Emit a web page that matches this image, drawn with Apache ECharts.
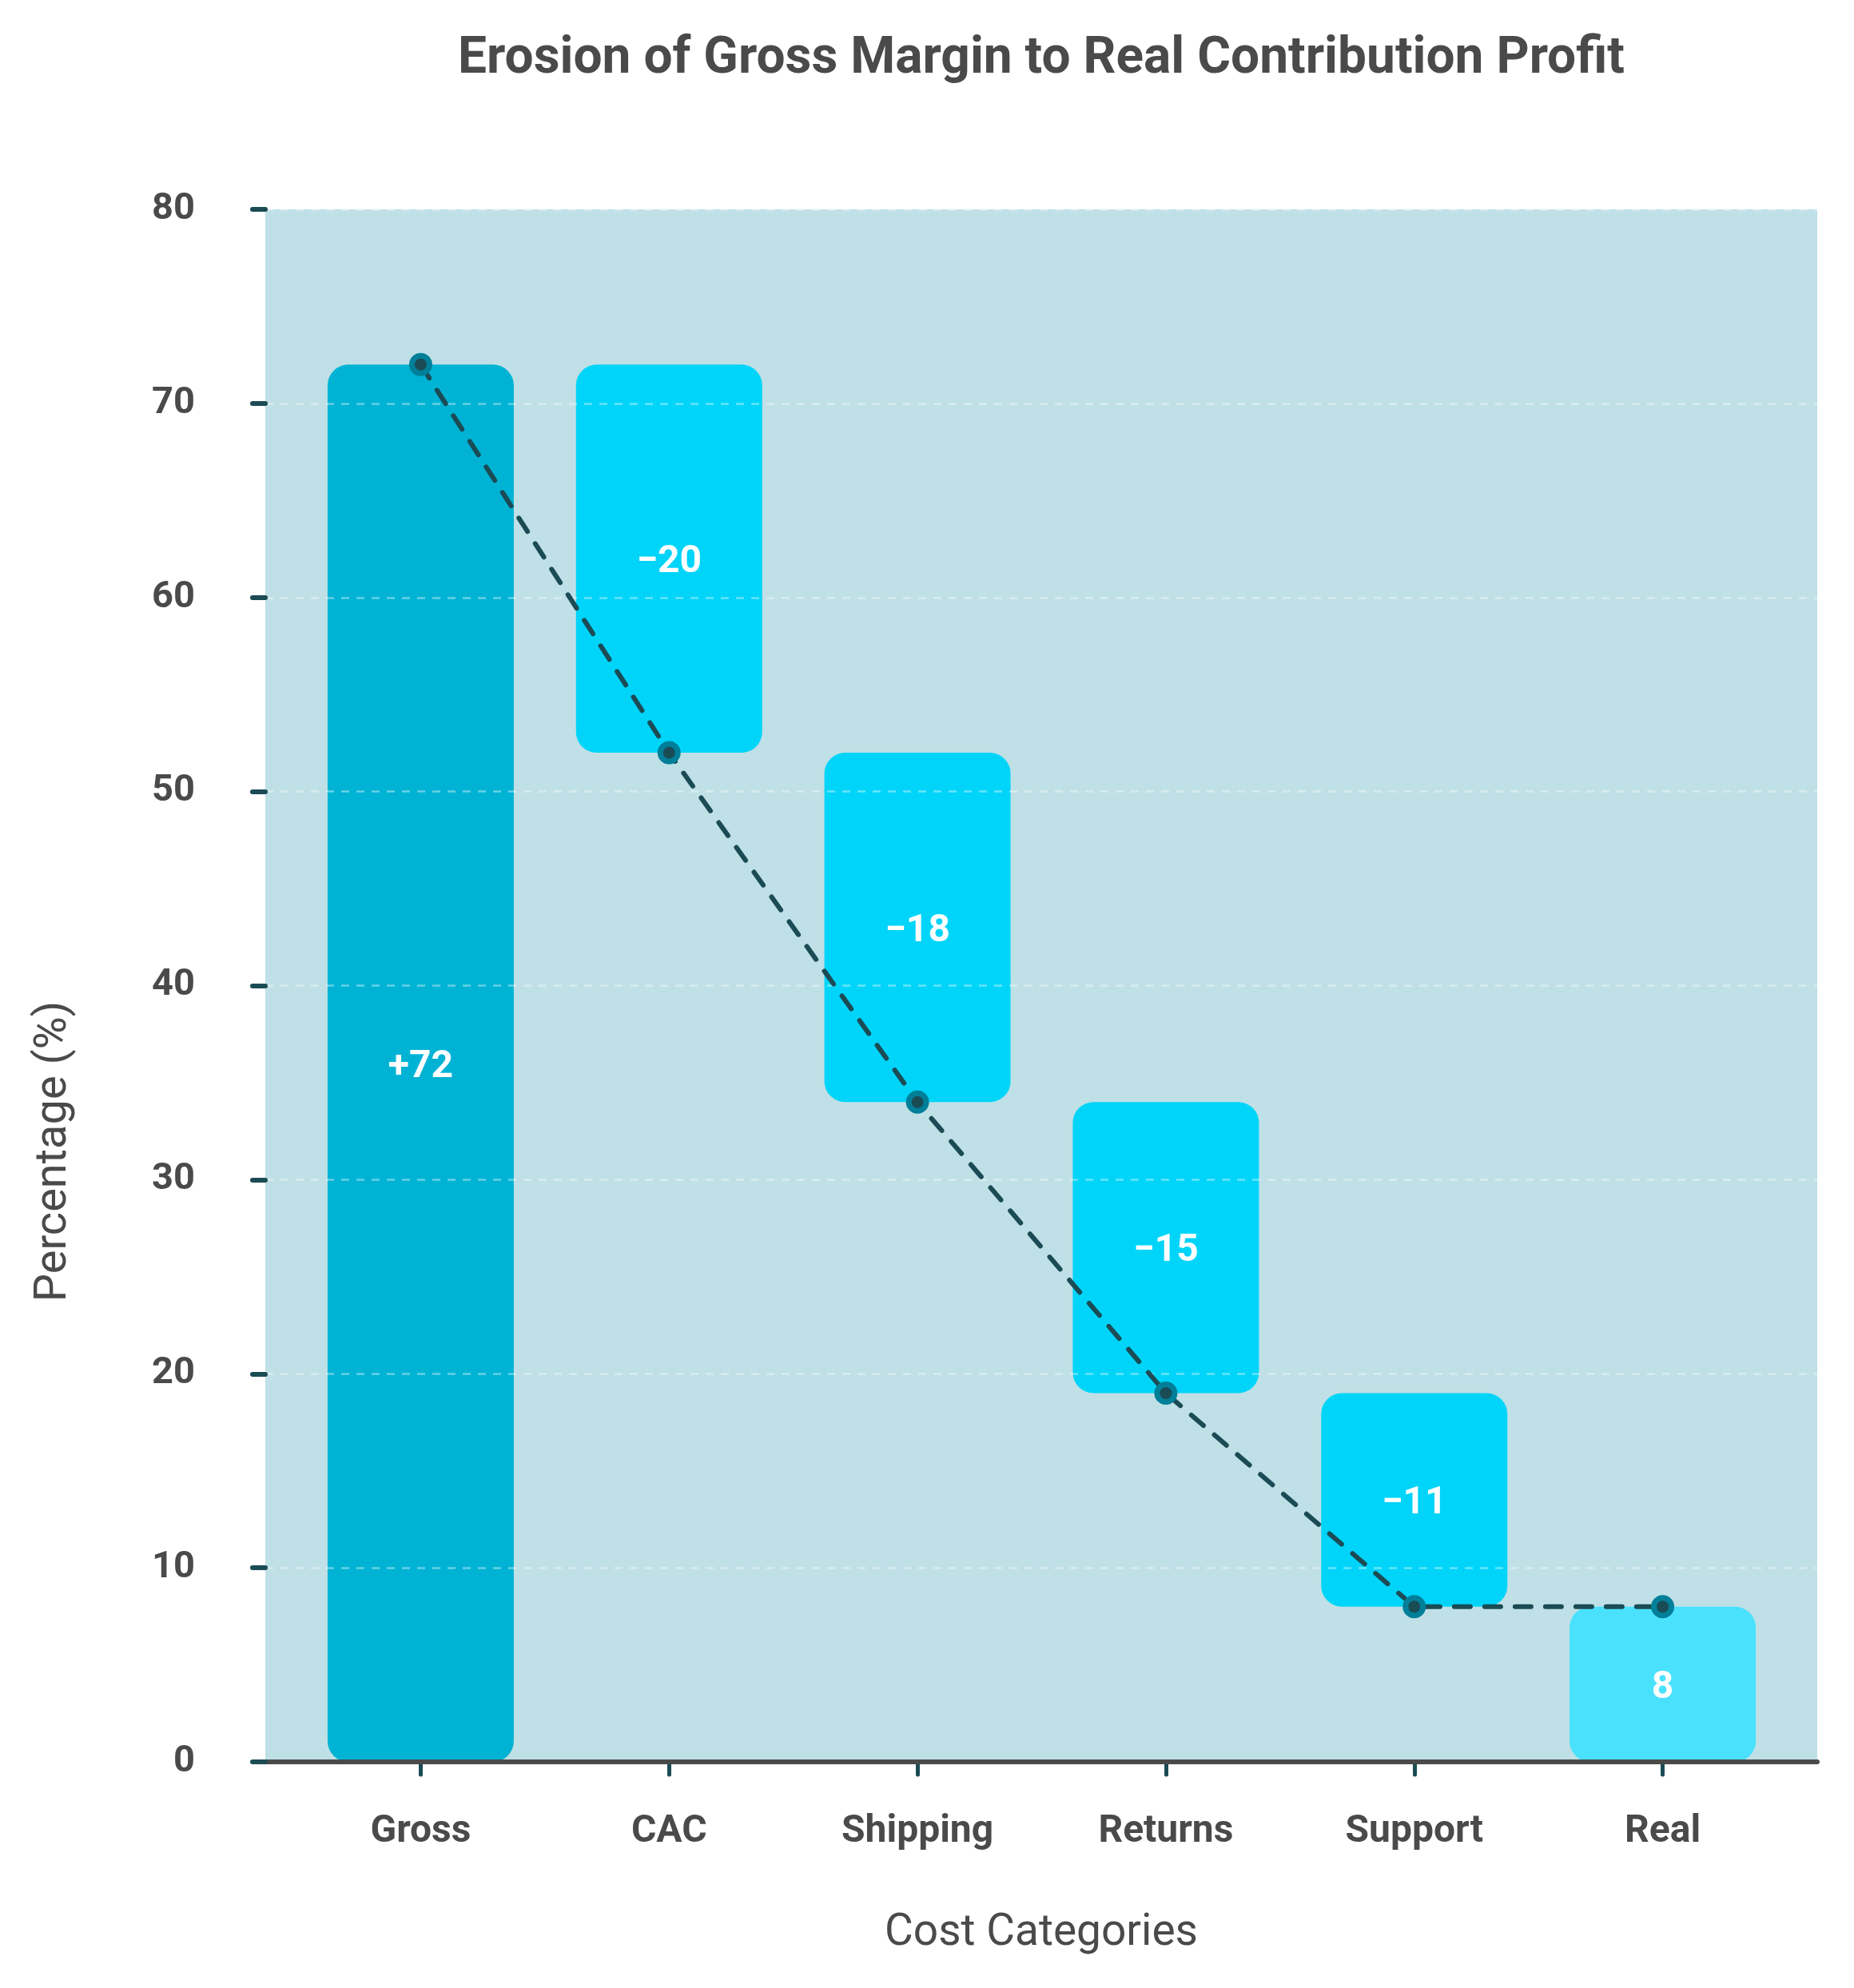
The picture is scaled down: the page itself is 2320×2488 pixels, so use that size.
<!DOCTYPE html>
<html>
<head>
<meta charset="utf-8">
<script src="https://cdn.jsdelivr.net/npm/echarts@6/dist/echarts.min.js"></script>
<style>
  html, body { margin: 0; padding: 0; background: #ffffff; }
  #chart { width: 2320px; height: 2488px; }
</style>
</head>
<body>
<div id="chart"></div>
<script>
// data
const categories = ['Gross', 'CAC', 'Shipping', 'Returns', 'Support', 'Real']
const barBase = [0, 52, 34, 19, 8, 0]
const barHeight = [72, 20, 18, 15, 11, 8]
const runningLevel = [72, 52, 34, 19, 8, 8]
const barLabels = ['+72', '\u221220', '\u221218', '\u221215', '\u221211', '8']
const yTicks = [0, 10, 20, 30, 40, 50, 60, 70, 80]

const barColors = ['#00b3d4', '#00d4f9', '#00d4f9', '#00d4f9', '#00d4f9', '#4ae1fd']
const textColor = '#4a4a4a'
const tealDark = '#1b4b55'
const font = 'Roboto'

const myChart = echarts.init(document.getElementById('chart'), null, { renderer: 'canvas' })

let option = {
  backgroundColor: '#ffffff',
  animation: false,
  title: {
    text: 'Erosion of Gross Margin to Real Contribution Profit',
    left: 1298,
    top: 38,
    textAlign: 'center',
    textStyle: { fontFamily: font, fontWeight: 'bold', fontSize: 64, color: textColor }
  },
  graphic: [
    {
      type: 'text',
      x: 68,
      y: 1441,
      rotation: Math.PI / 2,
      style: {
        text: 'Percentage (%)',
        fontFamily: font,
        fontSize: 56,
        fill: textColor,
        align: 'center',
        verticalAlign: 'middle'
      }
    }
  ],
  grid: [
    // background grid with y axis + axis line
    { left: 332, right: 46, top: 262, bottom: 283, show: true, backgroundColor: '#bfe0e6', borderWidth: 0 },
    // grid holding the bars, narrower like the padded category range
    { left: 371, right: 84, top: 262, bottom: 283 }
  ],
  xAxis: [
    {
      gridIndex: 0,
      type: 'value',
      min: 0,
      max: 1,
      z: 3,
      axisLine: { show: true, lineStyle: { color: textColor, width: 6 } },
      axisTick: { show: false },
      axisLabel: { show: false },
      splitLine: { show: false },
      name: 'Cost Categories',
      nameLocation: 'middle',
      nameGap: 188,
      nameTextStyle: { fontFamily: font, fontSize: 55, color: textColor }
    },
    {
      gridIndex: 1,
      type: 'category',
      data: categories,
      axisLine: { show: false },
      axisTick: {
        show: true,
        alignWithLabel: true,
        length: 16,
        lineStyle: { color: tealDark, width: 5, cap: 'round' }
      },
      axisLabel: { fontFamily: font, fontWeight: 'bold', fontSize: 48, color: textColor, margin: 64 }
    }
  ],
  yAxis: [
    {
      gridIndex: 0,
      type: 'value',
      min: 0,
      max: 80,
      interval: 10,
      z: 3,
      axisLine: { show: false },
      axisTick: { show: true, length: 16, lineStyle: { color: tealDark, width: 6, cap: 'round' } },
      axisLabel: {
        fontFamily: font, fontWeight: 'bold', fontSize: 47, color: textColor, margin: 88,
        padding: [10, 0, 0, 0],
        formatter: v => (yTicks.indexOf(v) > -1 ? String(v) : '')
      },
      splitLine: { show: true, lineStyle: { color: 'rgba(255,255,255,0.4)', width: 2.5, type: [10, 9] } }
    },
    {
      gridIndex: 1,
      type: 'value',
      min: 0,
      max: 80,
      show: false
    }
  ],
  series: [
    {
      name: 'base',
      type: 'bar',
      xAxisIndex: 1,
      yAxisIndex: 1,
      stack: 'waterfall',
      barWidth: 233,
      silent: true,
      itemStyle: { color: 'transparent' },
      data: barBase
    },
    {
      name: 'change',
      type: 'bar',
      xAxisIndex: 1,
      yAxisIndex: 1,
      stack: 'waterfall',
      barWidth: 233,
      data: barHeight.map((v, i) => ({
        value: v,
        itemStyle: { color: barColors[i], borderRadius: 26 }
      })),
      label: {
        show: true,
        position: 'inside',
        offset: [0, 5],
        fontFamily: font,
        fontWeight: 'bold',
        fontSize: 48,
        color: '#ffffff',
        formatter: p => barLabels[p.dataIndex]
      }
    },
    {
      name: 'level',
      type: 'line',
      xAxisIndex: 1,
      yAxisIndex: 1,
      z: 10,
      data: runningLevel,
      symbol: 'circle',
      symbolSize: 22,
      itemStyle: { color: tealDark, borderColor: '#007f99', borderWidth: 7 },
      lineStyle: { color: tealDark, width: 6, type: [20, 18], cap: 'round' }
    }
  ]
}

myChart.setOption(option)
</script>
</body>
</html>
